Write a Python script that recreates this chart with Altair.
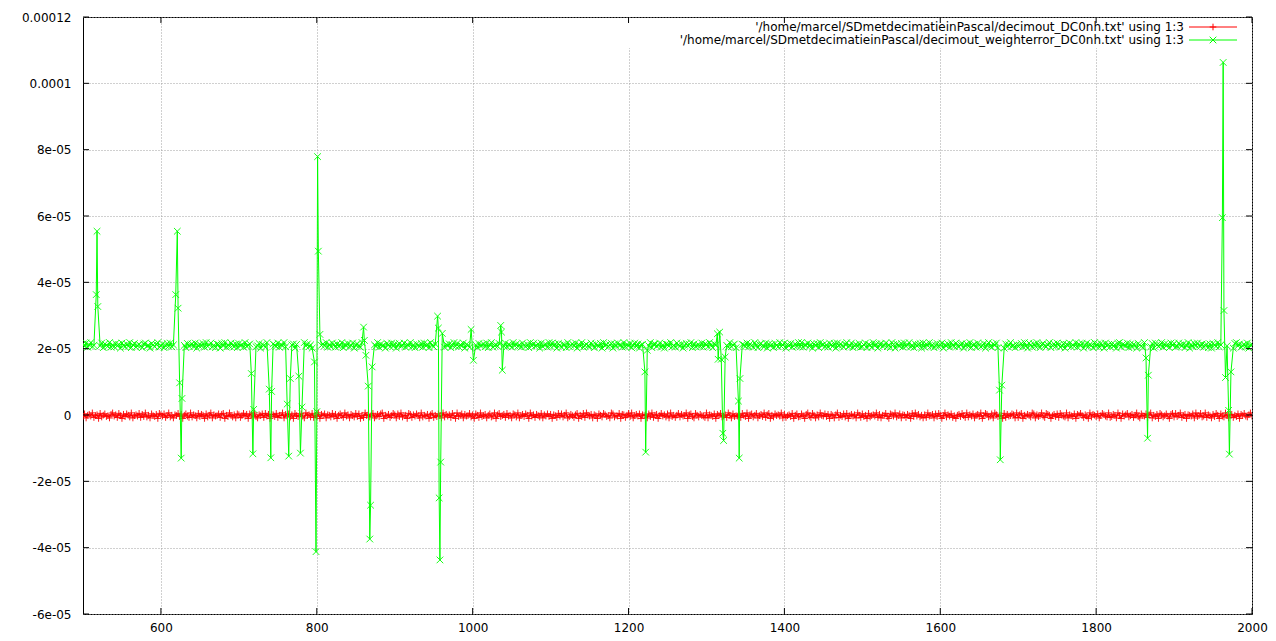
import json
import altair as alt
import pandas as pd

# ---------------- data ----------------
X_START, X_STEP = 500, 2
GREEN_LEVEL = 2.10e-5      # level of the weighterror series
RED_LEVEL = -0.02e-5       # level of the plain series
NOISE_UNIT = 1.4e-7

green_noise = [
    3, -2, 5, -4, 1,   6, -3, 0, 4, -6,   2, -1, 5, -5, 3,   0, -2, 6, -4, 1,
    -3, 4, -1, 2, -6,  5, 0, -3, 3, -2,   6, -5, 1, 4, -4,   0, 2, -1, -5, 3,
    5, -2, 0, -6, 4,   1, -3, 2, 6, -4,   -1, 3, -5, 0, 4,   -2, 5, -3, 1, -6,
    2, 3, -4, 6, -1,   0, -5, 4, -2, 1,   3, -3, 5, -6, 0,   2, -1, 4, -4, 6,
    -2, 1, 5, -3, 0,   -5, 3, 2, -6, 4,   -1, 6, -4, 1, -2,  5, 0, -3, 3, -5,
    4, -1, 2, -4, 6,   -2, 0, 3, -5, 1,   5, -3, -1, 4, -6,  2, 0, -4, 6, -2,
    1, -5, 3, 0, -2,   5, -4, 2, -1, 6,   -3, 0, 4, -5, 1,   3, -6, 2, -2, 5,
    -4, 0, 6, -1, 3,   -3, 1, -6, 4, 2,   -2, 5, -5, 0, 3,   -1, 6, -4, 2, -3,
    5, 1, -4, 3, -2,   0, 6, -5, 2, -1,   4, -3, 0, 5, -6,   1, 3, -2, -4, 6,
    0, -3, 4, -1, 5,   -5, 2, 1, -2, 6,   -4, 3, -1, 0, -6,  4, 2, -3, 5, -2,
    3, -6, 1, 4, -2,   0, 5, -4, 2, -1,   6, -3, 1, -5, 3,   0, -2, 4, -4, 5,
    -1, 2, -5, 6, 0,   -3, 3, -2, 4, -6,  1, 5, -4, 2, -1,   3, -5, 0, 6, -2,
    4, -3, 1, -1, 5,   -6, 2, 0, -4, 3,   6, -2, 1, -5, 4,   -1, 0, 3, -3, 5,
    -5, 2, 6, -4, 0,   1, -2, 4, -6, 3,   -1, 5, -3, 2, 0,   -4, 6, -1, 3, -2,
    1, -4, 5, 0, -3,   2, -5, 6, -1, 4,   -2, 0, 3, -6, 5,   -3, 1, 2, -4, 6,
    -2, 5, -1, 3, -6,  4, 0, -4, 2, 1,    -5, 6, -3, 0, 3,   -1, 5, -6, 2, -2,
    6, -4, 0, 2, -1,   -3, 5, 1, -5, 3,   0, -2, 4, -6, 6,   -1, 2, -3, 1, 4,
    -6, 3, -2, 5, 0,   1, -4, 6, -3, 2,   -1, 4, -5, 0, 5,   -2, 3, -6, 1, 2,
    4, 0, -3, -1, 6,   -5, 2, 3, -2, 0,   5, -4, 1, -6, 3,   2, -1, 6, -3, 0,
    -4, 5, 1, -2, 3,   -6, 0, 4, -1, 2,   6, -5, 3, -3, 0,   1, -2, 5, -4, 3,
    2, -3, 6, 0, -5,   3, 1, -1, 4, -6,   2, 5, -2, 0, -4,   6, -3, 1, 3, -5,
    0, 4, -6, 2, 1,    -2, 5, -3, 3, -1,  -4, 6, 0, -5, 2,   4, -1, -3, 5, -6,
    3, -1, 2, -5, 4,   0, -3, 6, -2, 1,   5, -6, 2, -1, 4,   -4, 0, 3, -2, 6,
    -3, 6, -4, 1, 0,   5, -2, 2, -6, 3,   -1, 4, -5, 6, 0,   2, -3, 1, -4, 5,
    1, -2, 4, -6, 5,   -1, 3, 0, -4, 2,   6, -3, -1, 5, -5,  0, 2, -2, 4, -4,
    -3, 1, 5, -5, 2,   0, -4, 6, -1, 3,   -6, 2, 4, -2, 0,   5, -3, 1, -5, 6,
    2, -6, 3, 0, -1,   4, -4, 5, -2, 1,   6, -3, 0, -5, 3,   -1, 2, 4, -6, 5,
    -4, 3, -1, 6, -2,  1, -5, 0, 4, -3,   2, 5, -6, 1, -1,   3, -4, 6, 0, -2,
    5, -1, -3, 2, 4,   -6, 0, 3, -2, 6,   -5, 1, 2, -4, 5,   0, -3, -1, 4, -6,
    1, 6, -2, -4, 3,   0, 5, -5, 2, -1,   4, -6, 3, -3, 1,   6, -2, 0, -5, 2,
    -2, 0, 4, -3, 6,   -1, -6, 5, 1, -4,  3, -2, 6, 0, -5,   2, 4, -1, -3, 1,
    6, -5, 0, 3, -2,   5, 1, -4, -1, 4,   -6, 2, 0, 5, -3,   1, -2, 6, -4, 3,
    -1, 4, -6, 1, 5,   -3, 2, 0, -5, 6,   -2, 3, -4, 4, 1,   -6, 5, -1, 2, -3,
    3, -2, 1, -6, 4,   6, -4, 2, 0, -1,   5, -5, 3, -3, 2,   0, -6, 4, 1, -2,
    -5, 6, 2, -1, 0,   -3, 4, -6, 5, 1,   -2, 0, 6, -4, 3,   -1, 2, -5, 5, 0,
    4, -4, -2, 5, 1,   -1, 3, -5, 0, 6,   -6, 2, -3, 4, -1,  5, 0, -2, 3, -4,
    0, 2, -5, 3, -6,   4, 1, -2, 6, -3,   1, -4, 5, 0, -1,   -5, 3, 2, -6, 4,
    6, -1, 3, -4, 0,   2, -3, 5, -6, 1,
    2,
]

red_noise = [
    -2, 4, -5, 1, 3,   -1, 6, -4, 0, 2,   -6, 5, -3, 1, 4,   -2, 0, -5, 3, 6,
    -1, 2, -4, 5, 0,   -6, 3, -2, 4, 1,   -3, 6, -5, 0, 2,   -1, 5, -4, 3, -2,
    6, -3, 1, -5, 4,   0, -2, 3, -6, 5,   2, -1, 4, -4, 0,   6, -3, 1, -5, 2,
    0, 5, -2, 3, -6,   1, 4, -1, -4, 6,   -3, 2, 0, -5, 5,   -2, 3, 1, -6, 4,
    -3, 1, 6, -5, 2,   -1, 0, 4, -4, 3,   5, -6, 1, -2, 6,   0, -3, 2, -5, 4,
    2, -4, 0, 5, -1,   3, -6, 4, 1, -3,   6, -2, -5, 2, 0,   4, -4, 5, -1, 3,
    -6, 3, 2, -2, 5,   -4, 1, 0, 6, -5,   3, -1, 4, -3, 2,   -6, 5, 0, -2, 1,
    4, -1, -5, 6, 0,   2, -3, 5, -4, 1,   -2, 6, -6, 3, 0,   4, -5, 2, 1, -3,
    5, -2, 3, -6, 1,   4, 0, -4, 6, -1,   2, -5, 3, 0, -3,   5, -2, 4, -6, 1,
    -4, 6, 0, 2, -3,   1, 5, -5, -1, 3,   -2, 4, 6, -6, 1,   -1, 3, -4, 0, 5,
    2, -5, 4, -2, 6,   -3, 0, 1, -6, 5,   3, -4, 2, -1, 4,   0, -5, 6, -3, 1,
    -1, 3, -6, 2, 5,   -4, 1, -2, 4, 0,   -5, 6, -3, 3, -1,  2, -4, 5, 0, -6,
    6, -2, 1, 4, -5,   3, -1, 0, 5, -3,   2, -6, 4, 1, -4,   6, -2, 0, 3, -5,
    1, 4, -3, -1, 6,   -6, 2, 5, -2, 0,   3, -4, 5, -1, 1,   -5, 4, 2, -3, 6,
    -5, 0, 3, -2, 4,   1, -6, 6, -1, 2,   -4, 3, 0, -3, 5,   -5, 2, -1, 4, -2,
    3, -6, 2, 0, -4,   5, -1, 4, -3, 1,   6, -5, -2, 3, 0,   -4, 2, 5, -6, 1,
    -2, 5, -4, 6, 1,   -1, 3, -5, 2, 0,   -6, 4, 1, -3, 5,   2, -2, 0, -5, 6,
    4, -3, 0, -1, 5,   -6, 3, 2, -4, 1,   5, -2, 6, -5, 0,   3, -1, 4, -6, 2,
    0, 2, -5, 4, -2,   6, -4, 1, 3, -6,   0, 5, -1, 2, -3,   4, -5, 6, -2, 1,
    -4, 1, 5, -3, 3,   -1, 0, 6, -6, 2,   4, -2, -5, 5, 1,   -3, 3, 0, -1, -4,
    6, -5, 2, 1, -2,   4, -6, 3, 0, 5,    -3, -1, 2, -4, 6,  1, -5, 4, -2, 0,
    -1, 3, -4, 5, 0,   -2, 6, -6, 2, 4,   -3, 1, 5, -5, 0,   3, -2, 6, -4, 2,
    5, -6, 1, -3, 4,   0, 2, -1, 6, -5,   3, -4, 0, 2, -2,   5, -6, 1, 4, -3,
    -2, 4, 0, -6, 3,   6, -1, -4, 5, 1,   -5, 2, -3, 6, 0,   -1, 4, -2, 3, -6,
    3, 0, -5, 2, 6,    -4, 1, -2, 4, -3,  5, -6, 0, 3, -1,   2, -5, 6, 1, -4,
    4, -2, 1, -6, 5,   -3, 0, 2, -1, 6,   -4, 3, -5, 1, 0,   5, -2, -6, 4, 2,
    -1, 6, -3, 0, 4,   -5, 2, 1, -4, 3,   0, -6, 5, -2, 6,   -1, 3, -3, 1, -5,
    2, -4, 6, -1, 0,   3, -5, 4, -2, 5,   1, -6, 0, 6, -3,   2, -1, 4, -4, 0,
    -6, 1, 3, -2, 5,   0, -4, 6, -3, 2,   -1, 4, -5, 1, 3,   -2, 6, -6, 0, 5,
    3, -3, -1, 4, -5,  6, 2, -2, 0, 1,    -6, 5, -4, 3, -1,  0, 4, 2, -5, 6,
    -4, 2, 5, -6, 1,   -1, 3, 0, -3, 6,   4, -5, 2, -2, 0,   6, -1, -4, 5, 3,
    1, -6, 0, 3, -2,   4, -4, 5, 1, -1,   -3, 6, -5, 2, 0,   -2, 4, -6, 3, 1,
    5, 0, -4, 2, -1,   -6, 6, -3, 3, 1,   -2, 4, -5, 0, 5,   2, -1, -3, 6, -4,
    -2, 3, 1, -5, 6,   0, -6, 4, -1, 2,   5, -3, 0, 3, -4,   1, 6, -2, -5, 4,
    0, -1, 4, -4, 2,   6, -5, 1, -2, 3,   -6, 5, 2, -3, 0,   4, -1, -6, 3, 5,
    -3, 5, -2, 1, 6,   -4, 0, 3, -6, 2,   1, -1, 4, -5, 6,   -2, 0, 5, -3, -1,
    6, -4, 2, 0, -5,   3, -2, 5, 1, -6,   4, -1, -3, 6, 0,   -5, 2, 3, -4, 1,
    -2, 4, -6, 3, 0,   5, -1, -3, 2, 6,
    -1,
]

# excursions of the weighterror series (x, value in 1e-5)
spike_x = [517, 518, 519,
           619, 621, 622, 624, 626, 627,
           716, 718, 719,
           739, 741, 742,
           762, 764, 766,
           777, 779, 781,
           797, 799, 800, 801, 802, 804,
           860, 861, 863,
           866, 868, 869, 871,
           955, 956, 957, 958, 959, 961,
           998, 1001,
           1036, 1037, 1038,
           1221, 1222, 1224,
           1314, 1315, 1317, 1319, 1321, 1322, 1324,
           1341, 1342, 1343,
           1676, 1677, 1679,
           1864, 1866, 1867,
           1962, 1963, 1964, 1966,
           1970, 1971, 1973]
spike_y = [3.63, 5.54, 3.27,
           3.63, 5.54, 3.22, 0.97, -1.30, 0.50,
           1.25, -1.17, 0.17,
           0.78, -1.29, 0.71,
           0.33, -1.24, 1.10,
           1.17, -1.15, 0.24,
           1.60, -4.12, 0.10, 7.79, 4.94, 2.43,
           2.65, 2.25, 1.80,
           0.87, -3.74, -2.72, 1.45,
           2.98, 2.62, -2.50, -4.37, -1.42, 2.46,
           2.58, 1.65,
           2.70, 2.50, 1.35,
           1.30, -1.12, 1.95,
           2.45, 1.68, 2.50, 1.68, -0.55, -0.77, 1.75,
           0.42, -1.30, 1.10,
           0.75, -1.35, 0.90,
           1.72, -0.70, 1.20,
           5.95, 10.63, 3.15, 1.13,
           0.14, -1.18, 1.30]

x_ticks = [600, 800, 1000, 1200, 1400, 1600, 1800, 2000]
y_ticks = [-6e-5, -4e-5, -2e-5, 0, 2e-5, 4e-5, 6e-5, 8e-5, 1e-4, 1.2e-4]
y_labels = ["-6e-05", "-4e-05", "-2e-05", "0", "2e-05", "4e-05", "6e-05",
            "8e-05", "0.0001", "0.00012"]

label_red = "'/home/marcel/SDmetdecimatieinPascal/decimout_DC0nh.txt' using 1:3"
label_green = "'/home/marcel/SDmetdecimatieinPascal/decimout_weighterror_DC0nh.txt' using 1:3"

# ---------------- tables ----------------
near_spike = set()
for sx in spike_x:
    near_spike.update((sx - 1, sx, sx + 1))
green_rows = [(X_START + i * X_STEP, GREEN_LEVEL + n * NOISE_UNIT)
              for i, n in enumerate(green_noise)
              if X_START + i * X_STEP not in near_spike
              and X_START + i * X_STEP <= 2000]
green_rows += [(x, v * 1e-5) for x, v in zip(spike_x, spike_y)]
green_rows.sort()
green_df = pd.DataFrame(green_rows, columns=["x", "y"])
red_df = pd.DataFrame([(X_START + i * X_STEP, RED_LEVEL + n * NOISE_UNIT)
                       for i, n in enumerate(red_noise)
                       if X_START + i * X_STEP <= 2000], columns=["x", "y"])
xt_df = pd.DataFrame({"v": x_ticks})
yt_df = pd.DataFrame({"v": y_ticks})

# ---------------- styling ----------------
W, H = 1169, 597
FONT = "DejaVu Sans"
RED, GREEN = "#ff0000", "#00ff00"
PLUS = "M-1,0H1M0,-1V1"
XMARK = "M-1,-1L1,1M-1,1L1,-1"
MSIZE = 44
TICK = 6

xscale = alt.Scale(domain=[500, 2000], nice=False, zero=False)
yscale = alt.Scale(domain=[-6e-5, 1.2e-4], nice=False, zero=False)
grid_style = dict(grid=True, gridColor="#a0a0a0", gridDash=[1, 2], gridWidth=1,
                  ticks=False, domain=False, title=None, labelFont=FONT,
                  labelFontSize=12, labelColor="black", labelFlush=False,
                  labelOverlap=False)
xaxis = alt.Axis(values=x_ticks, format="d", labelPadding=8, **grid_style)
yaxis = alt.Axis(values=y_ticks, labelPadding=12,
                 labelExpr=json.dumps(y_labels) + "[round(datum.value*50000)+3]",
                 **grid_style)


def X(field):
    return alt.X(field, type="quantitative", scale=xscale, axis=xaxis)


def Y(field):
    return alt.Y(field, type="quantitative", scale=yscale, axis=yaxis)


# white key box hiding the grid behind the legend
one = pd.DataFrame({"k": [0]})
key_box = alt.Chart(one).mark_rect(color="white").encode(
    x=alt.value(525), x2=alt.value(W - 2), y=alt.value(1), y2=alt.value(31))

red_line = alt.Chart(red_df).mark_line(color=RED, strokeWidth=1, clip=True).encode(
    x=X("x"), y=Y("y"), order="x:Q")
red_pts = alt.Chart(red_df).mark_point(
    shape=PLUS, size=MSIZE, filled=False, color=RED, strokeWidth=1, opacity=0.9,
    clip=True).encode(x=X("x"), y=Y("y"))
green_line = alt.Chart(green_df).mark_line(color=GREEN, strokeWidth=1, clip=True).encode(
    x=X("x"), y=Y("y"), order="x:Q")
green_pts = alt.Chart(green_df).mark_point(
    shape=XMARK, size=MSIZE, filled=False, color=GREEN, strokeWidth=1, opacity=0.9,
    clip=True).encode(x=X("x"), y=Y("y"))

# inward ticks on all four sides (gnuplot style, mirrored)
tick_b = alt.Chart(xt_df).mark_rule(color="black").encode(
    x=X("v"), y=alt.value(H), y2=alt.value(H - TICK))
tick_t = alt.Chart(xt_df).mark_rule(color="black").encode(
    x=X("v"), y=alt.value(0), y2=alt.value(TICK))
tick_l = alt.Chart(yt_df).mark_rule(color="black").encode(
    y=Y("v"), x=alt.value(0), x2=alt.value(TICK))
tick_r = alt.Chart(yt_df).mark_rule(color="black").encode(
    y=Y("v"), x=alt.value(W), x2=alt.value(W - TICK))

# key
KEY_TEXT_X = 1101
KEY_L0, KEY_L1 = 1106, 1154
KEY_MID = 1130
ROW1, ROW2 = 10, 23


def key_row(label, color, shape, yy):
    df = pd.DataFrame({"label": [label]})
    txt = alt.Chart(df).mark_text(
        align="right", baseline="middle", font=FONT, fontSize=12, color="black"
    ).encode(x=alt.value(KEY_TEXT_X), y=alt.value(yy), text="label:N")
    ln = alt.Chart(df).mark_rule(color=color, strokeWidth=1).encode(
        x=alt.value(KEY_L0), x2=alt.value(KEY_L1), y=alt.value(yy))
    pt = alt.Chart(df).mark_point(
        shape=shape, size=MSIZE, filled=False, color=color, strokeWidth=1, opacity=1
    ).encode(x=alt.value(KEY_MID), y=alt.value(yy))
    return [txt, ln, pt]


layers = [key_box, red_line, red_pts, green_line, green_pts,
          tick_b, tick_t, tick_l, tick_r]
layers += key_row(label_red, RED, PLUS, ROW1)
layers += key_row(label_green, GREEN, XMARK, ROW2)

chart = alt.layer(*layers).properties(
    width=W, height=H,
    autosize=alt.AutoSizeParams(type="none"),
    padding={"left": 75, "top": 9, "right": 16, "bottom": 19},
    background="white",
).configure_view(stroke="black", strokeWidth=1)

chart.save("out.html", embed_options={"renderer": "svg", "actions": False})
